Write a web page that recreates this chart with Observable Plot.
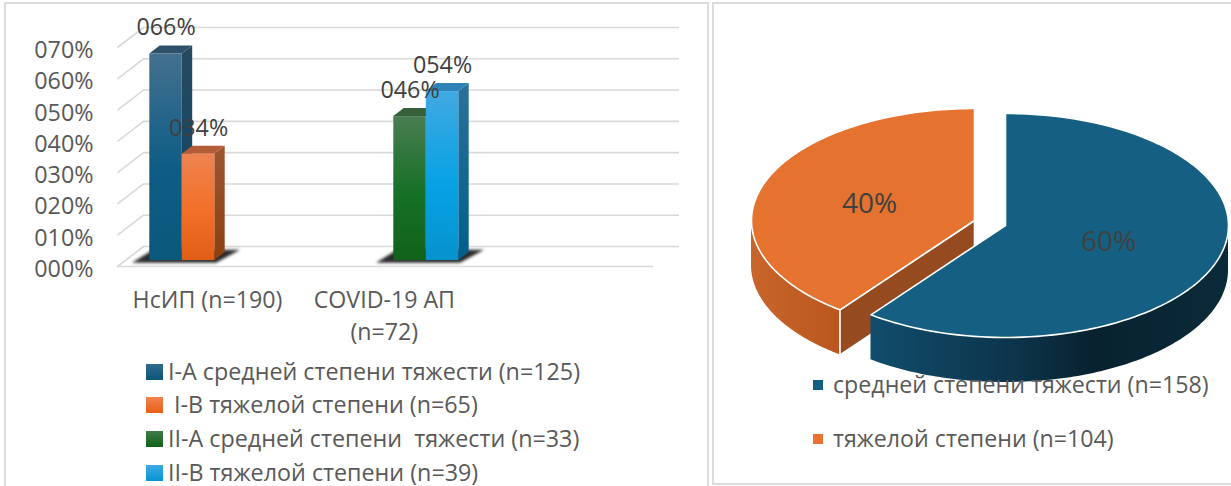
<!DOCTYPE html>
<html><head><meta charset="utf-8">
<script src="https://cdn.jsdelivr.net/npm/d3@7"></script>
<script src="https://cdn.jsdelivr.net/npm/@observablehq/plot@0.6"></script>
<style>
html,body{margin:0;padding:0;background:#fff;overflow:hidden}
body{width:1231px;height:486px;position:relative;font-family:"Open Sans",sans-serif}
.panel{position:absolute;box-sizing:border-box;border:2px solid #dcdcdc}
#pl{left:4px;top:2px;width:705px;height:500px}
#pr{left:712px;top:2px;width:540px;height:483px}
#bars,#pie{position:absolute;top:0}
#bars{left:0}#pie{left:713px}
.leg{position:absolute;white-space:pre;color:#595959;line-height:1;transform:translateY(-50%)}
.sw{position:absolute}
.shadow{filter:blur(1.6px)}
</style></head><body>
<div class="panel" id="pl"></div><div class="panel" id="pr"></div>
<div id="bars"></div><div id="pie"></div>
<script>
const categories = ["НсИП (n=190)", "COVID-19 АП\n(n=72)"];
const seriesNames = ["I-А средней степени тяжести (n=125)", " I-В тяжелой степени (n=65)", "II-А средней степени  тяжести (n=33)", "II-В тяжелой степени (n=39)"];
const seriesValues = [66, 34, 46, 54];
const seriesGroup = [0, 0, 1, 1];
const seriesSide = [0, 1, 0, 1];
const yTicks = [0, 10, 20, 30, 40, 50, 60, 70];
const pieNames = ["средней степени тяжести (n=158)", "тяжелой степени (n=104)"];
const pieValues = [158, 104];
const pieLabels = ["60%", "40%"];

const palette = [
  {id:"a", front:["#44708f","#0e5d85","#0a587b"], side:["#27495f","#0a4767"], top:"#2f5069", sw:["#2f6a8c","#0b5578"]},
  {id:"b", front:["#ee8350","#f26f28","#e05e15"], side:["#9c5630","#8c4010"], top:"#b35d38", sw:["#f08450","#e85f14"]},
  {id:"c", front:["#4a7d52","#157025","#12621a"], side:["#2c5a33","#0e4f16"], top:"#35603a", sw:["#3f7a49","#10621a"]},
  {id:"d", front:["#42a9e2","#06a2e4","#0792ce"], side:["#2b7099","#005f8a"], top:"#2e82b6", sw:["#3ea8e2","#0795d2"]}
];

// bar chart: the y and x scales describe the front plane of the oblique box
const pxX = 244, pxY = 219 / 70;
const depthX = 26 / pxX, depthY = 20 / pxY;
const barW = 32.5 / pxX, zFront = 0.3, zBack = 0.7;
const xLeft = -57 / pxX, xRight = 479 / pxX;
const fmt = v => d3.format("03d")(v) + "%";

function para(x0, x1, y, z0, z1) { // top or floor face
  const a = x0 + z0 * depthX, b = x1 + z0 * depthX, c = x0 + z1 * depthX, d = x1 + z1 * depthX;
  const lo = y + z0 * depthY, hi = y + z1 * depthY;
  return [{x:a,y1:lo,y2:lo},{x:c,y1:lo,y2:hi},{x:b,y1:lo,y2:hi},{x:d,y1:hi,y2:hi}];
}
function sideFace(x, v) {
  return [zFront, zBack].map(z => ({x:x + z * depthX, y1:z * depthY, y2:v + z * depthY}));
}
const shadowFloor = g => [
  {x:g - 42/pxX, y1:1.0, y2:1.0},
  {x:g - 21/pxX, y1:1.0, y2:5.2},
  {x:g + 42/pxX, y1:1.0, y2:5.2},
  {x:g + 66/pxX, y1:5.2, y2:5.2}
];
const area = (rows, fill, extra={}) => Plot.area(rows, {x1:"x", y1:"y1", y2:"y2", fill, ...extra});

const barMarks = seriesValues.map((v, i) => {
  const c = seriesGroup[i], s = seriesSide[i], p = palette[i];
  const x0 = c + (s ? 0 : -barW), x1 = x0 + barW;
  return [
    area(sideFace(x1, v), `url(#side-${p.id})`),
    area(para(x0, x1, v, zFront, zBack), p.top),
    Plot.rect([{x0, x1, v}], {
      x1: d => d.x0 + zFront * depthX, x2: d => d.x1 + zFront * depthX,
      y1: zFront * depthY, y2: d => d.v + zFront * depthY,
      fill: `url(#front-${p.id})`, inset: 0
    })
  ];
});
const valueLabels = seriesValues.map((v, i) => ({
  x: seriesGroup[i] + (seriesSide[i] ? barW / 2 : -barW / 2) + zFront * depthX,
  y: v + zFront * depthY, text: fmt(v)
}));

const barPlot = Plot.plot({
  width: 708, height: 486,
  marginLeft: 96, marginTop: 0, marginRight: 0, marginBottom: 0,
  style: {background: "transparent", fontFamily: '"Open Sans",sans-serif', overflow: "visible"},
  x: {domain: [0, 1], range: [174, 418], axis: null},
  y: {domain: [0, 70], range: [266, 47]},
  marks: [
    Plot.axisY(yTicks, {anchor:"left", tickSize:0, tickPadding:3, tickFormat:fmt, label:null, fontSize:23.3, color:"#595959", dy:3}),
    Plot.ruleY(yTicks, {y: d => d + depthY, x1: xLeft + depthX, x2: xRight + depthX, stroke:"#d9d9d9", strokeWidth:1.6}),
    Plot.ruleY([0], {x1: xLeft, x2: xRight, stroke:"#d9d9d9", strokeWidth:1.6}),
    Plot.link(yTicks, {x1:xLeft, y1:d => d, x2:xLeft + depthX, y2:d => d + depthY, stroke:"#d9d9d9", strokeWidth:1.6}),
    area(shadowFloor(0), "#2b2b2b", {className:"shadow"}),
    area(shadowFloor(1), "#2b2b2b", {className:"shadow"}),
    barMarks,
    Plot.text(valueLabels, {x:"x", y:"y", text:"text", dy:-26, fontSize:23.3, fill:"#404040"}),
    Plot.text(categories, {
      x: (d, i) => [0.135, 0.86][i], y: -5.9, text: d => d, lineAnchor:"top",
      fontSize:23.2, lineHeight:32/23.2, fill:"#595959"
    })
  ]
});

// pie: x and y are in radii of the ellipse
const total = d3.sum(pieValues);
const split = 360 * pieValues[0] / total;
const rad = Math.PI / 180;
const depth = 45 / 112;
const blueO = {x:0, y:0}, orangeO = {x:-31/223, y:5/112};
const rim = (o, t) => ({x:o.x + Math.sin(t * rad), y:o.y + Math.cos(t * rad)});
const arc = (o, t0, t1) => d3.range(0, 121).map(k => rim(o, t0 + (t1 - t0) * k / 120));
const sideRows = (o, t0, t1) => arc(o, t0, t1).map(p => ({x:p.x, y1:p.y - depth, y2:p.y}));
const wedge = (o, t0, t1) => [o, ...arc(o, t0, t1), o];
const lineFace = (rows, fill) => Plot.line(rows, {x:"x", y:"y", fill, stroke:"#fff", strokeWidth:1.6, curve:"linear"});
const tip = rim(orangeO, split);
const cutFace = [orangeO, tip, {x:tip.x, y:tip.y - depth}, {x:orangeO.x, y:orangeO.y - depth}, orangeO];

const piePlot = Plot.plot({
  width: 518, height: 486,
  marginLeft: 0, marginTop: 0, marginRight: 0, marginBottom: 0,
  style: {background:"transparent", fontFamily:'"Open Sans",sans-serif', overflow:"visible"},
  x: {domain: [-1, 1], range: [69, 515], axis: null},
  y: {domain: [-1, 1], range: [337, 113], axis: null},
  marks: [
    area(sideRows(orangeO, 270, split), "url(#side-orange)"),
    lineFace(cutFace, "#964a20"),
    lineFace(wedge(orangeO, split, 360), "#e5722f"),
    area(sideRows(blueO, 90, split), "url(#side-blue)"),
    lineFace(wedge(blueO, 0, split), "#156082"),
    Plot.text(pieLabels, {x:(d,i)=>[0.462,-0.61][i], y:(d,i)=>[-0.15,0.1875][i], text:d=>d, fontSize:28, fill:"#404040"})
  ]
});

function gradient(id, stops, horizontal) {
  const n = stops.length - 1;
  const dir = horizontal ? 'x1="0" y1="0" x2="1" y2="0"' : 'x1="0" y1="0" x2="0" y2="1"';
  return `<linearGradient id="${id}" ${dir}>` + stops.map((s, i) => {
    const [c, o] = Array.isArray(s) ? s : [s, i / n];
    return `<stop offset="${o}" stop-color="${c}"/>`;
  }).join("") + `</linearGradient>`;
}
function addDefs(svg, content) {
  const d = document.createElementNS("http://www.w3.org/2000/svg", "defs");
  d.innerHTML = content;
  svg.prepend(d);
}
addDefs(barPlot, palette.map(p =>
  gradient(`front-${p.id}`, [[p.front[0],0],[p.front[1],0.55],[p.front[2],1]]) +
  gradient(`side-${p.id}`, p.side)).join(""));
addDefs(piePlot,
  gradient("side-blue", [["#114d6c",0],["#0c3349",0.42],["#08222f",0.62],["#0b2a39",1]], true) +
  gradient("side-orange", [["#c8652b",0],["#b9571f",1]], true));

document.getElementById("bars").append(barPlot);
document.getElementById("pie").append(piePlot);

// legends below the plots
const legLeftY = [372, 405, 439, 473];
seriesNames.forEach((name, i) => {
  const sw = document.createElement("div");
  sw.className = "sw";
  sw.style.cssText = `left:146px;top:${legLeftY[i] - 8}px;width:17px;height:16px;background:linear-gradient(${palette[i].sw[0]},${palette[i].sw[1]})`;
  const t = document.createElement("div");
  t.className = "leg";
  t.textContent = name;
  t.style.cssText = `left:168px;top:${legLeftY[i]}px;font-size:23.3px`;
  document.body.append(sw, t);
});
const legRightY = [385, 439], legRightColor = ["#156082", "#e97132"];
pieNames.forEach((name, i) => {
  const sw = document.createElement("div");
  sw.className = "sw";
  sw.style.cssText = `left:813px;top:${legRightY[i] - 5}px;width:10px;height:10px;background:${legRightColor[i]}`;
  const t = document.createElement("div");
  t.className = "leg";
  t.textContent = name;
  t.style.cssText = `left:833px;top:${legRightY[i]}px;font-size:23.2px`;
  document.body.append(sw, t);
});
</script>
</body></html>
